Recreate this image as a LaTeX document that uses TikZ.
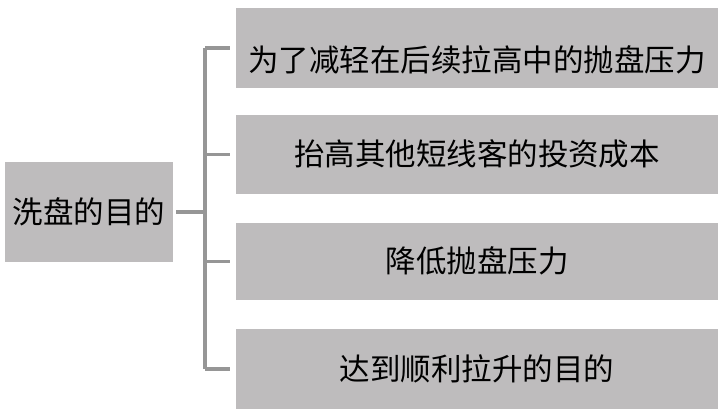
\documentclass[tikz,border=0pt]{standalone}
\usepackage{fontspec}
\newfontfamily\cjk{Noto Sans CJK SC}
\definecolor{boxgray}{RGB}{190,188,189}
\definecolor{linkgray}{RGB}{150,150,150}
\begin{document}
\begin{tikzpicture}[x=1pt,y=-1pt, every node/.style={rectangle,fill=boxgray,inner sep=0pt,text height=27pt,text depth=4pt,font=\cjk\fontsize{30.5pt}{36pt}\selectfont},
  item/.style={minimum width=482pt}, link/.style={draw=linkgray,line width=3.5pt}]
  \useasboundingbox (0,0) rectangle (724,414);
  \node[minimum width=168pt,minimum height=100pt] (root) at (89,212) {洗盘的目的};
  \node[item,minimum height=80pt,text height=51pt] (b1) at (477,48) {为了减轻在后续拉高中的抛盘压力};
  \node[item,minimum height=79pt] (b2) at (477,154.5) {抬高其他短线客的投资成本};
  \node[item,minimum height=77pt] (b3) at (477,261.5) {降低抛盘压力};
  \node[item,minimum height=80pt] (b4) at (477,369) {达到顺利拉升的目的};
  \coordinate (j) at (205,212);
  \draw[link] ([xshift=3pt]root.east) -- (j);
  \draw[link] (j |- b1.west) -- (j |- b4.west);
  \foreach \i in {1,...,4}
    \draw[link] (j |- b\i.west) -- ([xshift=-6pt]b\i.west);
\end{tikzpicture}
\end{document}
